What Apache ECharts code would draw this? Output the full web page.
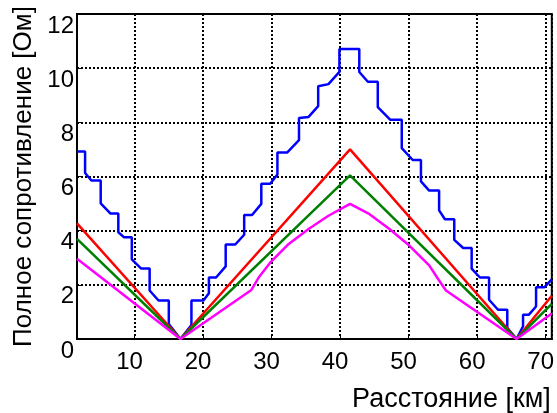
<!DOCTYPE html>
<html><head><meta charset="utf-8">
<script src="https://cdn.jsdelivr.net/npm/echarts@6/dist/echarts.min.js"></script>
<style>html,body{margin:0;padding:0;background:#fff}#c{width:557px;height:413px}</style>
</head><body><div id="c"></div>
<script>
const xName = 'Расстояние [км]';
const yName = 'Полное сопротивление [Ом]';
const xTickValues = [10, 20, 30, 40, 50, 60, 70];
const yTickValues = [0, 2, 4, 6, 8, 10, 12];

const blueX = [1.6, 2.78, 2.78, 3.7, 5.06, 5.06, 6.5, 7.63, 7.63, 8.44, 9.6, 9.6, 10.97, 12.2, 12.2, 13.5, 15.0, 15.0, 16.7,
  18.3, 18.3, 20.05, 20.85, 20.85, 21.9, 23.3, 23.3, 24.7, 26.0, 26.0, 27.15, 28.5, 28.5, 29.8, 30.85, 30.85, 32.3, 34.0, 34.0, 35.4, 36.8, 36.8, 38.3, 39.9, 39.9, 42.8,
  42.8, 44.05, 45.5, 45.5, 47.3, 49.0, 49.0, 50.6, 51.8, 51.8, 53.0, 54.45, 54.45, 55.3, 56.66, 56.66, 57.97, 59.2, 59.2, 60.4, 61.74, 61.74, 63.05, 64.4, 64.4, 65.75,
  66.7, 66.7, 67.56, 68.6, 68.6, 69.8, 70.9];
const blueY = [6.92, 6.92, 6.13, 5.85, 5.85, 5.01, 4.63, 4.63, 3.94, 3.76, 3.76, 2.94, 2.6, 2.6, 1.79, 1.42, 1.42, 0.55, 0,
  0.52, 1.42, 1.42, 1.69, 2.27, 2.27, 2.68, 3.49, 3.49, 3.85, 4.58, 4.58, 4.99, 5.73, 5.73, 6.07, 6.89, 6.89, 7.34, 8.16, 8.2, 8.6, 9.33, 9.41, 9.86, 10.71, 10.71,
  9.86, 9.5, 9.5, 8.56, 8.1, 8.1, 7.05, 6.61, 6.61, 5.82, 5.48, 5.48, 4.75, 4.42, 4.42, 3.66, 3.36, 3.36, 2.6, 2.27, 2.27, 1.45, 1.08, 1.08, 0.41, 0,
  0.47, 0.9, 0.9, 1.2, 1.91, 1.91, 2.2];

const redX = [1.6, 16.7, 41.45, 65.75, 70.9];
const redY = [4.27, 0, 7.0, 0, 1.6];
const greenX = [1.6, 16.7, 41.45, 65.75, 70.9];
const greenY = [3.7, 0, 6.04, 0, 1.3];
const magentaX = [1.6, 16.7, 27.05, 28.2, 29.9, 32.5, 35.4, 38.3, 41.45, 44.3, 47.2, 50.1, 53.0, 54.4, 55.45, 65.75, 70.9];
const magentaY = [2.96, 0, 1.81, 2.3, 2.85, 3.51, 4.06, 4.55, 4.99, 4.61, 4.06, 3.45, 2.72, 2.18, 1.79, 0, 0.94];

const zip = (xs, ys) => xs.map((x, i) => [x, ys[i]]);
const FONT = '"Liberation Sans", Arial, sans-serif';

const chart = echarts.init(document.getElementById('c'), null, {renderer: 'canvas'});
const mkLine = (name, xs, ys, color) => ({
  name, type: 'line', data: zip(xs, ys), showSymbol: false, symbol: 'none',
  lineStyle: {color, width: 2.5}, itemStyle: {color}, animation: false, z: 3
});
chart.setOption({
  animation: false,
  backgroundColor: '#fff',
  grid: {left: 77, right: 3, top: 14, bottom: 70, show: true, borderColor: '#000', borderWidth: 2, backgroundColor: 'transparent'},
  xAxis: {
    type: 'value', min: 1.6, max: 70.9,
    name: xName, nameLocation: 'end', nameGap: -1,
    nameTextStyle: {fontFamily: FONT, fontSize: 27, color: '#000', align: 'right', verticalAlign: 'top', padding: [47, 0, 0, 0]},
    axisLine: {lineStyle: {color: '#000', width: 2}},
    axisTick: {show: true, inside: true, length: 5, lineStyle: {color: '#000', width: 1}},
    splitLine: {show: true, lineStyle: {color: '#000', width: 2, type: [2, 2]}},
    axisLabel: {
      showMinLabel: false, showMaxLabel: false,
      formatter: v => (xTickValues.includes(Math.round(v)) && Math.abs(v - Math.round(v)) < 1e-6) ? String(Math.round(v)) : '',
      fontFamily: FONT, fontSize: 24, color: '#000', margin: 11, padding: [0, 10, 0, 0]
    }
  },
  yAxis: {
    type: 'value', min: 0, max: 12, interval: 2,
    name: yName, nameLocation: 'middle', nameGap: 38,
    nameTextStyle: {fontFamily: FONT, fontSize: 26, color: '#000'},
    axisLine: {lineStyle: {color: '#000', width: 2}},
    axisTick: {show: true, inside: true, length: 5, lineStyle: {color: '#000', width: 1}},
    splitLine: {show: true, lineStyle: {color: '#000', width: 2, type: [2, 2]}},
    axisLabel: {
      formatter: v => yTickValues.includes(v) ? String(v) : '',
      fontFamily: FONT, fontSize: 24, color: '#000', margin: 3, align: 'right', verticalAlign: 'top'
    }
  },
  series: [
    mkLine('blue', blueX, blueY, '#0000ff'),
    mkLine('red', redX, redY, '#ff0000'),
    mkLine('green', greenX, greenY, '#008000'),
    mkLine('magenta', magentaX, magentaY, '#ff00ff')
  ]
});
</script></body></html>
